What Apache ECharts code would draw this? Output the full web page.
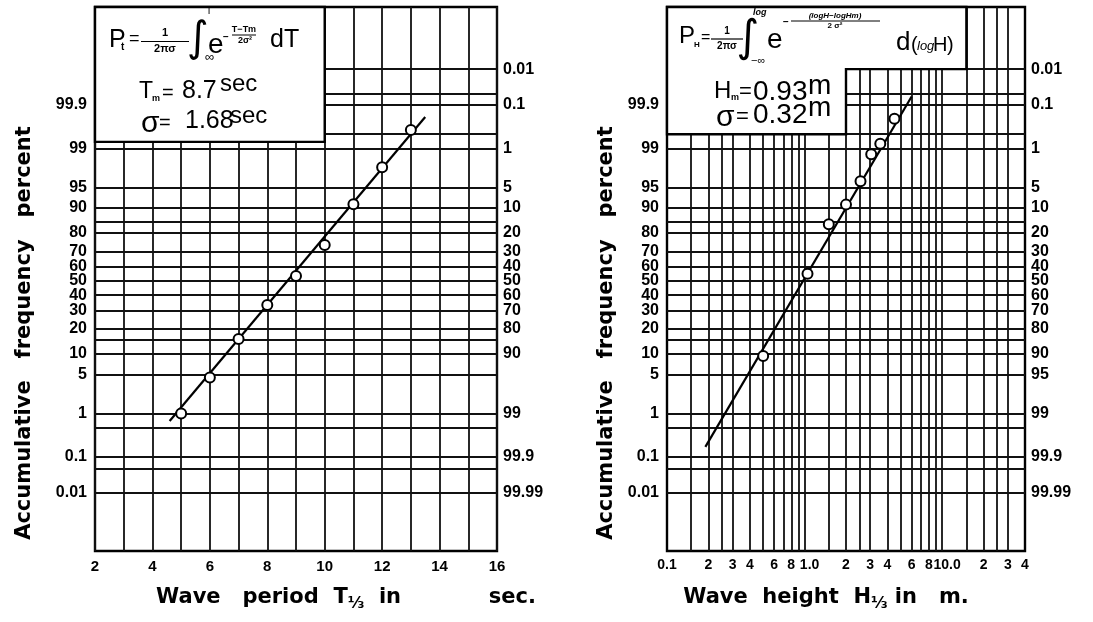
<!DOCTYPE html>
<html>
<head>
<meta charset="utf-8">
<title>Accumulative frequency of wave period and wave height</title>
<script src="https://cdn.jsdelivr.net/npm/echarts@6/dist/echarts.min.js"></script>
<style>
  html, body { margin: 0; padding: 0; background: #fff; }
  #chart { width: 1093px; height: 622px; }
</style>
</head>
<body>
<div id="chart"></div>
<script>
// probability paper: horizontal rulings (cumulative percent)
const probLines = [0.01, 0.05, 0.1, 0.5, 1, 5, 10, 15, 20, 30, 40, 50, 60, 70, 80, 85, 90, 95, 99, 99.5, 99.9, 99.95, 99.99];
const leftTicks = [0.01, 0.1, 1, 5, 10, 20, 30, 40, 50, 60, 70, 80, 90, 95, 99, 99.9];
const rightTicksT = [0.01, 0.1, 1, 5, 10, 20, 30, 40, 50, 60, 70, 80, 90, 99, 99.9, 99.99];
const rightTicksH = [0.01, 0.1, 1, 5, 10, 20, 30, 40, 50, 60, 70, 80, 90, 95, 99, 99.9, 99.99];

// wave period
const periodTicks = [2, 4, 6, 8, 10, 12, 14, 16];
const periodT = [5, 6, 7, 8, 9, 10, 11, 12, 13];
const periodP = [1.0, 4.5, 15.4, 33.7, 53.5, 73.6, 91.1, 97.7, 99.6];
const periodFitT = [4.6, 13.5];
const periodFitP = [0.7, 99.8];

// wave height (log scale)
const heightLines = [0.15, 0.2, 0.25, 0.3, 0.4, 0.5, 0.6, 0.7, 0.8, 0.9, 1, 1.5, 2, 2.5, 3, 4, 5, 6, 7, 8, 9, 10, 15, 20, 25, 30];
const heightTicks = [0.1, 0.2, 0.3, 0.4, 0.6, 0.8, 1, 2, 3, 4, 6, 8, 10, 20, 30, 40];
const heightTickLabels = ['0.1', '2', '3', '4', '6', '8', '1.0', '2', '3', '4', '6', '8', '10.0', '2', '3', '4'];
const heightH = [0.5, 1.05, 1.5, 2.0, 2.55, 3.05, 3.55, 4.5];
const heightP = [9.4, 55, 84, 91, 96, 98.7, 99.2, 99.78];
const heightFitH = [0.19, 6.0];
const heightFitP = [0.18, 99.94];

// inverse normal cdf (Acklam)
function probit(p) {
  const a = [-39.69683028665376, 220.9460984245205, -275.9285104469687, 138.3577518672690, -30.66479806614716, 2.506628277459239];
  const b = [-54.47609879822406, 161.5858368580409, -155.6989798598866, 66.80131188771972, -13.28068155288572];
  const c = [-0.007784894002430293, -0.3223964580411365, -2.400758277161838, -2.549732539343734, 4.374664141464968, 2.938163982698783];
  const d = [0.007784695709041462, 0.3224671290700398, 2.445134137142996, 3.754408661907416];
  const pl = 0.02425;
  let q, r;
  if (p < pl) {
    q = Math.sqrt(-2 * Math.log(p));
    return (((((c[0] * q + c[1]) * q + c[2]) * q + c[3]) * q + c[4]) * q + c[5]) / ((((d[0] * q + d[1]) * q + d[2]) * q + d[3]) * q + 1);
  }
  if (p <= 1 - pl) {
    q = p - 0.5; r = q * q;
    return (((((a[0] * r + a[1]) * r + a[2]) * r + a[3]) * r + a[4]) * r + a[5]) * q / (((((b[0] * r + b[1]) * r + b[2]) * r + b[3]) * r + b[4]) * r + 1);
  }
  q = Math.sqrt(-2 * Math.log(1 - p));
  return -(((((c[0] * q + c[1]) * q + c[2]) * q + c[3]) * q + c[4]) * q + c[5]) / ((((d[0] * q + d[1]) * q + d[2]) * q + d[3]) * q + 1);
}
const z = pct => probit(pct / 100);

const Y_MIN = -4.74, Y_MAX = 4.81;
const TICK_FONT = 'Liberation Sans';
const TITLE_FONT = 'DejaVu Sans';

function labelFmt(values, labels) {
  return function (v) {
    const i = values.findIndex(t => Math.abs(t - v) < 1e-6 * Math.max(1, Math.abs(t)));
    return i >= 0 ? labels[i] : '';
  };
}

function probAxis(grid, pos, ticks, complement, name, nameGap) {
  const vals = ticks.map(t => complement ? z(100 - t) : z(t));
  const ax = {
    type: 'value', gridIndex: grid, position: pos, min: Y_MIN, max: Y_MAX,
    axisLine: {show: false}, axisTick: {show: false}, splitLine: {show: false},
    axisLabel: {
      customValues: vals, formatter: labelFmt(vals, ticks.map(String)),
      color: '#000', fontFamily: TICK_FONT, fontWeight: 'bold', fontSize: 16,
      margin: pos === 'left' ? 8 : 6
    }
  };
  if (name) {
    ax.name = name;
    ax.nameLocation = 'middle';
    ax.nameGap = nameGap;
    ax.nameTextStyle = {color: '#000', fontFamily: TITLE_FONT, fontWeight: 'bold', fontSize: 21, padding: [0, 108, 0, 0]};
  }
  return ax;
}

const ruling = {type: 'solid', color: '#111', width: 1.8};
function rulings(extra) {
  return {
    silent: true, symbol: 'none', z: 1, animation: false,
    label: {show: false}, emphasis: {disabled: true},
    lineStyle: ruling,
    data: probLines.map(p => ({yAxis: z(p)})).concat(extra || [])
  };
}

const yTitle = 'Accumulative   frequency   percent';
const dot = {color: '#fff', borderColor: '#000', borderWidth: 2, opacity: 1};

// log axis labels: the decade labels sit a little right of their ruling
const heightFmt = labelFmt(heightTicks, heightTickLabels);
function heightLabel(v) {
  const s = heightFmt(v);
  return s.indexOf('.') > 0 && s !== '0.1' ? '{w|' + s + '}' : s;
}

const chart = echarts.init(document.getElementById('chart'));
chart.setOption({
  animation: false,
  backgroundColor: '#fff',
  grid: [
    {left: 95, top: 7, width: 402, height: 544, show: true, borderColor: '#000', borderWidth: 2.4, backgroundColor: 'transparent', outerBoundsMode: 'none'},
    {left: 667, top: 7, width: 358, height: 544, show: true, borderColor: '#000', borderWidth: 2.4, backgroundColor: 'transparent', outerBoundsMode: 'none'}
  ],
  xAxis: [
    {
      type: 'value', gridIndex: 0, min: 2, max: 16, interval: 1,
      axisLine: {show: false}, axisTick: {show: false},
      splitLine: {show: true, lineStyle: ruling},
      axisLabel: {customValues: periodTicks, color: '#000', fontFamily: TICK_FONT, fontWeight: 'bold', fontSize: 15, margin: 8},
      name: 'Wave   period  T{s|⅓}  in            sec.',
      nameLocation: 'middle', nameGap: 33,
      nameTextStyle: {color: '#000', fontFamily: TITLE_FONT, fontWeight: 'bold', fontSize: 21, padding: [0, 0, 0, 100],
        rich: {s: {fontFamily: TITLE_FONT, fontWeight: 'bold', fontSize: 16, padding: [12, 0, 0, 0]}}}
    },
    {
      type: 'log', logBase: 10, gridIndex: 1, min: 0.1, max: 40,
      axisLine: {show: false}, axisTick: {show: false}, splitLine: {show: false}, minorSplitLine: {show: false},
      axisLabel: {customValues: heightTicks, formatter: heightLabel,
        color: '#000', fontFamily: TICK_FONT, fontWeight: 'bold', fontSize: 14, margin: 7,
        rich: {w: {fontFamily: TICK_FONT, fontWeight: 'bold', fontSize: 14, color: '#000', padding: [0, 0, 0, 10]}}},
      name: 'Wave  height  H{s|⅓} in   m.',
      nameLocation: 'middle', nameGap: 33,
      nameTextStyle: {color: '#000', fontFamily: TITLE_FONT, fontWeight: 'bold', fontSize: 21, padding: [0, 40, 0, 0],
        rich: {s: {fontFamily: TITLE_FONT, fontWeight: 'bold', fontSize: 16, padding: [12, 0, 0, 0]}}}
    }
  ],
  yAxis: [
    probAxis(0, 'left', leftTicks, false, yTitle, 60),
    probAxis(0, 'right', rightTicksT, true),
    probAxis(1, 'left', leftTicks, false, yTitle, 50),
    probAxis(1, 'right', rightTicksH, true)
  ],
  series: [
    {
      name: 'period fit', type: 'line', xAxisIndex: 0, yAxisIndex: 0, z: 9,
      symbol: 'none', silent: true, lineStyle: {color: '#000', width: 2.2},
      data: periodFitT.map((t, i) => [t, z(periodFitP[i])]),
      markLine: rulings()
    },
    {
      name: 'period', type: 'scatter', xAxisIndex: 0, yAxisIndex: 0, z: 10,
      symbol: 'circle', symbolSize: 10, itemStyle: dot,
      data: periodT.map((t, i) => [t, z(periodP[i])])
    },
    {
      name: 'height fit', type: 'line', xAxisIndex: 1, yAxisIndex: 2, z: 9,
      symbol: 'none', silent: true, lineStyle: {color: '#000', width: 2.2},
      data: heightFitH.map((h, i) => [h, z(heightFitP[i])]),
      markLine: rulings(heightLines.map(h => ({xAxis: h})))
    },
    {
      name: 'height', type: 'scatter', xAxisIndex: 1, yAxisIndex: 2, z: 10,
      symbol: 'circle', symbolSize: 10, itemStyle: dot,
      data: heightH.map((h, i) => [h, z(heightP[i])])
    }
  ]
});

// formula boxes in the upper left of each panel
const px0 = (x, y) => chart.convertToPixel({xAxisIndex: 0, yAxisIndex: 0}, [x, y]);
const px1 = (x, y) => chart.convertToPixel({xAxisIndex: 1, yAxisIndex: 2}, [x, y]);
const a0 = px0(2, Y_MAX), b0 = px0(10, z(99.27));
const boxL = [px1(0.1, Y_MAX), px1(15, Y_MAX), px1(15, z(99.99)), px1(2, z(99.99)), px1(2, z(99.5)), px1(0.1, z(99.5))];

function t(text, x, y, size, opt) {
  opt = opt || {};
  return {
    type: 'text', x: x, y: y, z: 101, silent: true,
    style: {
      text: text, fill: '#000', fontSize: size,
      fontFamily: opt.family || 'Liberation Sans', fontWeight: opt.weight || 'normal', fontStyle: opt.style || 'normal',
      align: opt.align || 'left', verticalAlign: 'middle'
    }
  };
}
function bar(x1, x2, y, w) {
  return {type: 'line', z: 101, silent: true, shape: {x1: x1, y1: y, x2: x2, y2: y}, style: {stroke: '#000', lineWidth: w || 1.2}};
}
const B = {weight: 'bold'};
const C = {weight: 'bold', align: 'center'};

chart.setOption({
  graphic: [
    {type: 'rect', z: 100, silent: true, shape: {x: a0[0], y: a0[1], width: b0[0] - a0[0], height: b0[1] - a0[1]},
      style: {fill: '#fff', stroke: '#000', lineWidth: 2.4}},
    {type: 'polygon', z: 100, silent: true, shape: {points: boxL}, style: {fill: '#fff', stroke: '#000', lineWidth: 2.4}},

    // left formula
    t('P', 109, 40, 25), t('t', 121, 47, 10, B), t('=', 129, 39, 18),
    t('1', 165, 33, 11, C), bar(141, 189, 41.5), t('2πσ', 165, 49, 11, C),
    t('∫', 198, 40, 42, {family: 'DejaVu Sans', align: 'center'}),
    t('T', 206, 11, 10), t('∞', 205, 57, 13),
    t('e', 208, 45, 28), t('−', 223, 37, 10, B),
    t('T−Tm', 244, 30, 9, C), bar(232, 256, 35, 1), t('2σ²', 245, 41, 9, C),
    t('dT', 270, 40, 25),
    t('T', 139, 92, 23), t('m', 152, 99, 9, B), t('=', 162, 93, 20), t('8.7', 182, 91, 25), t('sec', 220, 84, 24),
    t('σ', 141, 124, 30), t('=', 159, 123, 20), t('1.68', 185, 121, 25), t('sec', 230, 116, 24),

    // right formula
    t('P', 679, 36, 24), t('H', 694, 45, 8, B), t('=', 701, 38, 16),
    t('1', 727, 31, 10, C), bar(711, 743, 39), t('2πσ', 727, 46, 10, C),
    t('∫', 748, 40, 44, {family: 'DejaVu Sans', align: 'center'}),
    t('log', 753, 13, 9, {weight: 'bold', style: 'italic'}), t('−∞', 751, 61, 11),
    t('e', 767, 40, 28), t('−', 783, 22, 10, B),
    t('(logH−logHm)', 835, 16, 8, {weight: 'bold', style: 'italic', align: 'center'}), bar(791, 880, 21, 1),
    t('2 σ²', 835, 26, 8, C),
    t('d', 896, 43, 26), t('(', 911, 45, 20), t('log', 917, 46, 13, {style: 'italic'}), t('H', 933, 45, 20), t(')', 947, 45, 20),
    t('H', 714, 91, 24), t('m', 731, 98, 9, B), t('=', 739, 92, 22), t('0.93', 753, 92, 28), t('m', 808, 86, 28),
    t('σ', 716, 118, 30), t('=', 736, 117, 22), t('0.32', 753, 115, 28), t('m', 808, 108, 28)
  ]
});
</script>
</body>
</html>
